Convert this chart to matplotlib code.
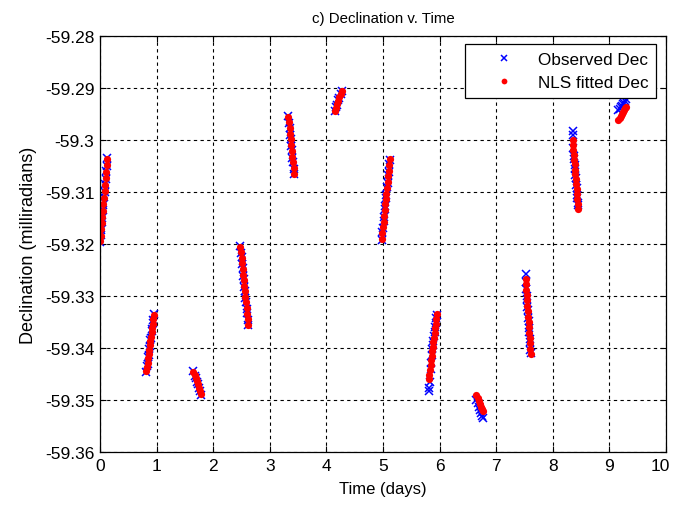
import matplotlib
matplotlib.use('Agg')
import matplotlib.pyplot as plt
import matplotlib.transforms as mtransforms
import numpy as np

plt.rcParams['font.family'] = ['Liberation Sans', 'DejaVu Sans']

# observation arcs: time (days), observed dec, NLS fitted dec (milliradians)
t_arcs = [
    [0.00, 0.01, 0.02, 0.03, 0.04, 0.05, 0.06, 0.07, 0.08, 0.09, 0.10, 0.11, 0.12, 0.13],
    [0.82, 0.83, 0.84, 0.85, 0.86, 0.87, 0.88, 0.89, 0.90, 0.91, 0.92, 0.93, 0.94, 0.95],
    [1.65, 1.67, 1.69, 1.71, 1.73, 1.75, 1.77, 1.79],
    [2.48, 2.49, 2.50, 2.51, 2.52, 2.53, 2.54, 2.55, 2.56, 2.57, 2.58, 2.59, 2.60, 2.61, 2.62],
    [3.33, 3.34, 3.35, 3.36, 3.37, 3.38, 3.39, 3.40, 3.41, 3.42, 3.43],
    [4.15, 4.17, 4.19, 4.21, 4.23, 4.25, 4.27],
    [4.98, 4.99, 5.00, 5.01, 5.02, 5.03, 5.04, 5.05, 5.06, 5.07, 5.08, 5.09, 5.10, 5.11, 5.12],
    [5.81, 5.82, 5.83, 5.84, 5.85, 5.86, 5.87, 5.88, 5.89, 5.90, 5.91, 5.92, 5.93, 5.94, 5.95],
    [6.65, 6.67, 6.69, 6.71, 6.73, 6.75, 6.77],
    [7.520, 7.526, 7.533, 7.539, 7.546, 7.552, 7.559, 7.565, 7.572, 7.578, 7.585, 7.591, 7.598, 7.604, 7.610],
    [8.350, 8.357, 8.364, 8.371, 8.379, 8.386, 8.393, 8.400, 8.407, 8.414, 8.421, 8.429, 8.436, 8.443, 8.450],
    [9.16, 9.18, 9.20, 9.22, 9.24, 9.26, 9.28, 9.30],
]

dec_obs = [
    [-59.3197, -59.3182, -59.3174, -59.3158, -59.3150, -59.3134, -59.3125, -59.3109, -59.3100, -59.3084, -59.3075, -59.3059, -59.3050, -59.3035],
    [-59.3447, -59.3435, -59.3430, -59.3418, -59.3414, -59.3401, -59.3397, -59.3384, -59.3380, -59.3368, -59.3363, -59.3351, -59.3346, -59.3334],
    [-59.3445, -59.3453, -59.3457, -59.3465, -59.3469, -59.3477, -59.3483, -59.3490],
    [-59.3203, -59.3218, -59.3225, -59.3239, -59.3247, -59.3261, -59.3268, -59.3282, -59.3290, -59.3303, -59.3311, -59.3325, -59.3333, -59.3346, -59.3356],
    [-59.2954, -59.2968, -59.2976, -59.2990, -59.2998, -59.3012, -59.3020, -59.3034, -59.3042, -59.3056, -59.3066],
    [-59.2945, -59.2937, -59.2932, -59.2924, -59.2919, -59.2911, -59.2905],
    [-59.3192, -59.3177, -59.3170, -59.3155, -59.3148, -59.3133, -59.3126, -59.3111, -59.3105, -59.3090, -59.3083, -59.3068, -59.3061, -59.3046, -59.3038],
    [-59.3483, -59.3477, -59.3466, -59.3440, -59.3428, -59.3413, -59.3402, -59.3395, -59.3386, -59.3377, -59.3369, -59.3360, -59.3352, -59.3342, -59.3336],
    [-59.3500, -59.3506, -59.3513, -59.3519, -59.3525, -59.3530, -59.3535],
    [-59.3258, -59.3274, -59.3286, -59.3300, -59.3306, -59.3321, -59.3327, -59.3342, -59.3348, -59.3362, -59.3369, -59.3383, -59.3389, -59.3404, -59.3410],
    [-59.2982, -59.2991, -59.3015, -59.3030, -59.3036, -59.3049, -59.3055, -59.3068, -59.3073, -59.3087, -59.3092, -59.3106, -59.3111, -59.3121, -59.3125],
    [-59.2943, -59.2940, -59.2937, -59.2934, -59.2931, -59.2928, -59.2925, -59.2922],
]

dec_fit = [
    [-59.3195, -59.3184, -59.3172, -59.3160, -59.3148, -59.3136, -59.3123, -59.3111, -59.3098, -59.3086, -59.3073, -59.3061, -59.3048, -59.3036],
    [-59.3445, -59.3437, -59.3428, -59.3420, -59.3412, -59.3403, -59.3395, -59.3386, -59.3378, -59.3370, -59.3361, -59.3353, -59.3344, -59.3336],
    [-59.3446, -59.3452, -59.3458, -59.3464, -59.3470, -59.3476, -59.3482, -59.3489],
    [-59.3205, -59.3216, -59.3226, -59.3237, -59.3248, -59.3259, -59.3269, -59.3280, -59.3291, -59.3301, -59.3312, -59.3323, -59.3334, -59.3344, -59.3355],
    [-59.2955, -59.2966, -59.2977, -59.2988, -59.2999, -59.3010, -59.3021, -59.3032, -59.3043, -59.3054, -59.3065],
    [-59.2944, -59.2938, -59.2931, -59.2925, -59.2918, -59.2912, -59.2906],
    [-59.3190, -59.3179, -59.3168, -59.3157, -59.3146, -59.3135, -59.3124, -59.3113, -59.3103, -59.3092, -59.3081, -59.3070, -59.3059, -59.3048, -59.3037],
    [-59.3460, -59.3451, -59.3442, -59.3433, -59.3424, -59.3415, -59.3406, -59.3398, -59.3389, -59.3380, -59.3371, -59.3362, -59.3353, -59.3344, -59.3335],
    [-59.3490, -59.3496, -59.3502, -59.3508, -59.3513, -59.3518, -59.3522],
    [-59.3267, -59.3277, -59.3288, -59.3298, -59.3308, -59.3319, -59.3329, -59.3340, -59.3350, -59.3360, -59.3371, -59.3381, -59.3391, -59.3402, -59.3412],
    [-59.3000, -59.3009, -59.3019, -59.3028, -59.3038, -59.3047, -59.3057, -59.3066, -59.3075, -59.3085, -59.3094, -59.3104, -59.3113, -59.3123, -59.3132],
    [-59.2962, -59.2958, -59.2954, -59.2950, -59.2946, -59.2942, -59.2939, -59.2936],
]

x_ticks = [0, 1, 2, 3, 4, 5, 6, 7, 8, 9, 10]
y_ticks = [-59.36, -59.35, -59.34, -59.33, -59.32, -59.31, -59.30, -59.29, -59.28]
y_ticklabels = ['-59.36', '-59.35', '-59.34', '-59.33', '-59.32', '-59.31', '-59.3', '-59.29', '-59.28']

t_all = np.concatenate(t_arcs)
obs_all = np.concatenate(dec_obs)
fit_all = np.concatenate(dec_fit)

fig = plt.figure(figsize=(6.73, 5.06), dpi=100)
ax = fig.add_axes([0.1486, 0.1047, 0.8410, 0.8222])

ax.plot(t_all, obs_all, 'x', color='blue', markersize=6, markeredgewidth=1.1,
        label='Observed Dec')
ax.plot(t_all, fit_all, 'o', color='red', markersize=5.2, markeredgewidth=0,
        label='NLS fitted Dec')

ax.set_xlim(0, 10)
ax.set_ylim(-59.36, -59.28)
ax.set_xticks(x_ticks)
ax.set_yticks(y_ticks)
ax.set_yticklabels(y_ticklabels)

ax.grid(True, color='black', linestyle=(0, (3, 3)), linewidth=0.8)
ax.tick_params(direction='in', top=True, right=True, length=4, labelsize=12.5,
               width=0.8, pad=4)
for s in ax.spines.values():
    s.set_linewidth(0.9)

# nudge the last x label so it stays inside the figure
last = ax.get_xticklabels()[-1]
last.set_transform(last.get_transform()
                   + mtransforms.ScaledTranslation(-4 / 72, 0, fig.dpi_scale_trans))

ax.set_xlabel('Time (days)', fontsize=12, labelpad=6)
ax.set_ylabel('Declination (milliradians)', fontsize=13, labelpad=6)
ax.set_title('c) Declination v. Time', fontsize=10.8, pad=10)

leg = ax.legend(loc='upper right', bbox_to_anchor=(0.983, 0.981), borderaxespad=0,
                fancybox=False, framealpha=1, edgecolor='black', fontsize=12.3,
                handletextpad=0.2, handlelength=3.6, borderpad=0.45, labelspacing=0.5,
                markerscale=0.8)
leg.get_frame().set_linewidth(0.9)

fig.savefig('out.png', dpi=100)
